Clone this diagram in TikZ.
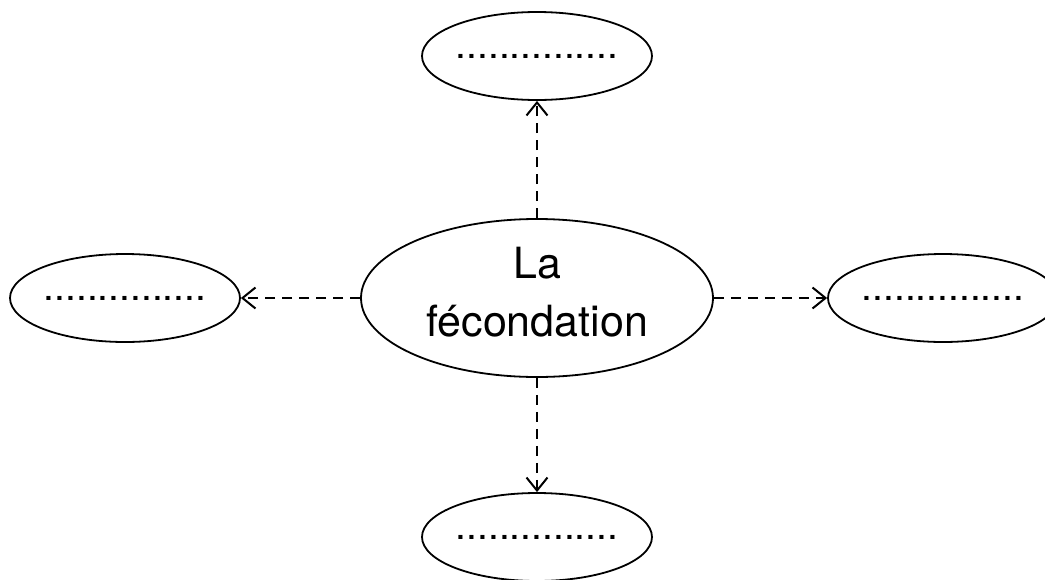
\documentclass[tikz,border=0pt]{standalone}
\usepackage{fontspec}
\setmainfont{TeX Gyre Heros}
\usetikzlibrary{shapes.geometric,arrows.meta}
\begin{document}
\begin{tikzpicture}[x=1pt,y=-1pt,
  bub/.style={draw,ellipse,line width=1.8pt,inner sep=0pt,minimum width=229pt,minimum height=88pt,font=\fontsize{39}{39}\selectfont},
  mainbub/.style={draw,ellipse,line width=1.8pt,inner sep=0pt,minimum width=352pt,minimum height=158pt,align=center,font=\fontsize{43}{58}\selectfont},
  link/.style={line width=2pt,dash pattern=on 10pt off 7pt,-{Straight Barb[length=13pt,width=21pt,line width=2pt]}}]
\useasboundingbox (0,0) rectangle (1045,579);
\clip (0,0) rectangle (1045,579);
\node[mainbub] (c) at (537,298) {La\\fécondation\rule[-13pt]{0pt}{13pt}};
\node[bub] (t) at (537,56) {...............};
\node[bub] (l) at (125,298) {...............};
\node[bub] (r) at (943,298) {...............};
\node[bub] (b) at (537,537) {...............};
\draw[link] (c.north) -- (t.south);
\draw[link] (c.west) -- (l.east);
\draw[link] (c.east) -- (r.west);
\draw[link] (c.south) -- (b.north);
\end{tikzpicture}
\end{document}
